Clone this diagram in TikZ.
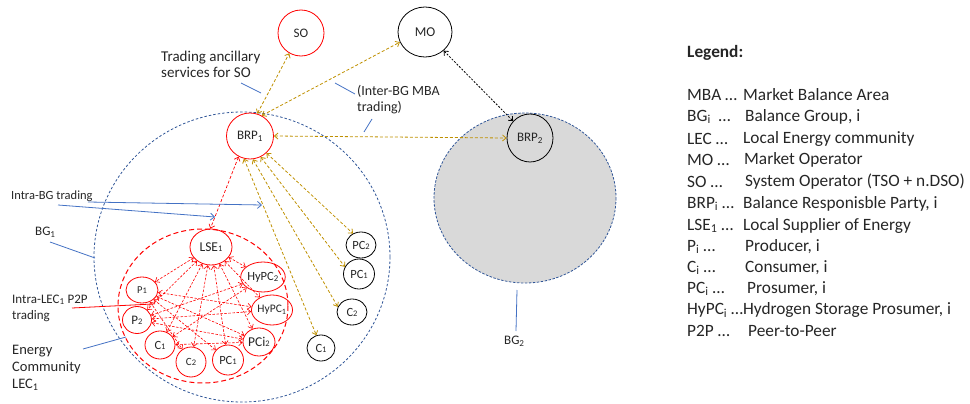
\documentclass[tikz,border=0pt]{standalone}
\usepackage{fontspec}
\setmainfont{Carlito}
\usetikzlibrary{arrows.meta,shapes.geometric}
\definecolor{gold}{RGB}{191,144,0}
\definecolor{lblue}{RGB}{68,114,196}
\definecolor{dblue}{RGB}{47,85,151}
\definecolor{bggray}{RGB}{217,217,217}
\newcommand{\myfs}[1]{\fontsize{#1}{#1}\selectfont}
\newcommand{\dg}[1]{{\fontsize{8.5}{8.5}\selectfont #1}}
\begin{document}
\begin{tikzpicture}[x=1pt,y=-1pt,
  ent/.style={ellipse, draw, inner sep=0pt, line width=0.8pt, font=\myfs{12.5}, text=black!85},
  rent/.style={ent, draw=red},
  bent/.style={ent, draw=black},
  garr/.style={draw=gold, line width=0.8pt, dash pattern=on 3pt off 2pt,
    {Straight Barb[length=3.5pt,width=6pt]}-{Straight Barb[length=3.5pt,width=6pt]}},
  rarr/.style={garr, draw=red, line width=0.7pt},
  karr/.style={garr, draw=black, dash pattern=on 2pt off 1.5pt},
  note/.style={draw=lblue, line width=0.8pt},
  notearr/.style={note, -{Straight Barb[length=4pt,width=7pt]}},
  lbl/.style={font=\myfs{12.5}, align=left, inner sep=0pt, text=black!85, anchor=west},
  leg/.style={font=\myfs{17.3}, inner sep=0pt, text=black!85, anchor=west},
]
\useasboundingbox (0,0) rectangle (970,404);

% groups
\draw[dblue, line width=0.8pt, dash pattern=on 2.5pt off 1.5pt, fill=bggray] (525,198) ellipse [x radius=91, y radius=85];
\draw[dblue, line width=0.8pt, dash pattern=on 2.5pt off 2pt] (242,257) ellipse [x radius=148, y radius=145];
\draw[red, line width=1pt, dash pattern=on 5pt off 3pt] (203,306) ellipse [x radius=85, y radius=77];

% top level nodes
\node[rent, minimum width=46pt, minimum height=46pt, font=\myfs{13}] (SO) at (301,33) {SO};
\node[bent, minimum width=54pt, minimum height=50pt, font=\myfs{13.5}] (MO) at (425,32) {MO};
\node[rent, minimum width=47pt, minimum height=46pt, font=\myfs{13}] (BRP1) at (250,136) {BRP\textsubscript{1}};
\node[bent, minimum width=46pt, minimum height=48pt, font=\myfs{13}] (BRP2) at (530,138) {BRP\textsubscript{2}};

% LEC nodes
\node[rent, minimum width=42pt, minimum height=36pt, font=\myfs{13.5}] (LSE) at (211,247) {LSE\dg{1}};
\node[rent, minimum width=34pt, minimum height=30pt] (HyPC2) at (263,277) {HyPC\textsubscript{2}};
\node[rent, minimum width=34pt, minimum height=30pt, font=\myfs{11.5}] (HyPC1) at (272,310) {HyPC\textsubscript{1}};
\node[rent, minimum width=32pt, minimum height=28pt, font=\myfs{13.5}] (PCi2) at (259,342) {PCi\dg{2}};
\node[rent, minimum width=31pt, minimum height=30pt] (PC1r) at (228,360) {PC\dg{1}};
\node[rent, minimum width=30pt, minimum height=30pt, font=\myfs{11}] (C2r) at (191,362) {C\dg{2}};
\node[rent, minimum width=30pt, minimum height=28pt] (C1r) at (160,345) {C\dg{1}};
\node[rent, minimum width=29pt, minimum height=27pt, font=\myfs{13}] (P2) at (137,320) {P\dg{2}};
\node[rent, minimum width=32pt, minimum height=26pt, font=\myfs{10.5}] (P1) at (142,290) {P\dg{1}};

% BG1 members outside LEC
\node[bent, minimum width=30pt, minimum height=26pt] (PC2k) at (361,245) {PC\dg{2}};
\node[bent, minimum width=31pt, minimum height=30pt] (PC1k) at (359,274) {PC\dg{1}};
\node[bent, minimum width=30pt, minimum height=26pt] (C2k) at (352,312) {C\dg{2}};
\node[bent, minimum width=28pt, minimum height=26pt] (C1k) at (321,348) {C\dg{1}};

% gold trading arrows
\draw[garr] (BRP1.72) -- (SO.-120);
\draw[garr] (BRP1.60) -- (MO.-158);
\draw[garr] (BRP1.0) -- (BRP2.180);
\draw[garr] (BRP1.-46) -- (PC2k.125);
\draw[garr] (BRP1.-63) -- (PC1k.153);
\draw[garr] (BRP1.-83) -- (C2k.160);
\draw[garr] (BRP1.-105) -- (C1k.110);
\draw[rarr] (BRP1.-119) -- (LSE.92);
\draw[karr] (MO.-45) -- (BRP2.135);

% LEC P2P arrows
\begin{scope}[rarr/.append style={line width=0.6pt, dash pattern=on 2.5pt off 1.5pt}]
\foreach \t in {P1,P2,C1r,C2r,PC1r,PCi2,HyPC1,HyPC2} \draw[rarr] (LSE) -- (\t);
\foreach \t in {C2r,PC1r,PCi2,HyPC1} \draw[rarr] (P1) -- (\t);
\foreach \t in {HyPC2,HyPC1,PCi2} \draw[rarr] (P2) -- (\t);
\foreach \t in {PCi2,HyPC2} \draw[rarr] (C1r) -- (\t);
\end{scope}

% annotation lines
\coordinate (anA) at (241,83);  \coordinate (anB) at (261,93);
\coordinate (ibA) at (335,83);  \coordinate (ibB) at (355,94);
\coordinate (ibC) at (372,119); \coordinate (ibD) at (364,132);
\coordinate (bgA) at (88,202);  \coordinate (bgB) at (262,205);
\coordinate (bgC) at (58,205);  \coordinate (bgD) at (215,217);
\coordinate (g1A) at (50,242);  \coordinate (g1B) at (95,258);
\coordinate (g2A) at (517,290); \coordinate (g2B) at (516,331);
\coordinate (ecA) at (83,349);  \coordinate (ecB) at (126,337);
\coordinate (lcA) at (72,308);  \coordinate (lcB) at (153,304);
\draw[note] (anA) -- (anB);
\draw[note] (ibA) -- (ibB);
\draw[note] (ibC) -- (ibD);
\draw[notearr] (bgA) -- (bgB);
\draw[notearr] (bgC) -- (bgD);
\draw[note] (g1A) -- (g1B);
\draw[note] (g2A) -- (g2B);
\draw[note] (ecA) -- (ecB);
\draw[red, line width=0.8pt] (lcA) -- (lcB);

% labels
\node[lbl, font=\fontsize{15}{16}\selectfont] (tAnc) at (161,64) {Trading ancillary\\services for SO};
\node[lbl, font=\fontsize{14}{16}\selectfont] (tInter) at (357,100) {(Inter-BG MBA\\trading)};
\node[lbl] (tIntraBG) at (11,196) {Intra-BG trading};
\node[lbl, font=\myfs{13}] (tBG1) at (35,232) {BG\textsubscript{1}};
\node[lbl, font=\fontsize{13}{16}\selectfont] (tLEC) at (12,308) {Intra-LEC\textsubscript{1} P2P\\trading};
\node[lbl, font=\myfs{14.5}, text depth=0pt] (tEC) at (12,367) {Energy\\[2.5pt]Community\\[2.5pt]LEC\textsubscript{1}};
\node[lbl, font=\myfs{13}] (tBG2) at (504,341) {BG\textsubscript{2}};

% legend
\node[leg, font=\bfseries\myfs{17.3}] (lgT) at (687,53) {Legend:};
\node[leg] (a1) at (687,95) {MBA …}; \node[leg] (d1) at (743,95) {Market Balance Area};
\node[leg] (a2) at (687,117) {BG\textsubscript{i}\ \ …}; \node[leg] (d2) at (745,117) {Balance Group, i};
\node[leg] (a3) at (687,139) {LEC …}; \node[leg] (d3) at (743,139) {Local Energy community};
\node[leg] (a4) at (687,160) {MO …}; \node[leg] (d4) at (744,160) {Market Operator};
\node[leg] (a5) at (687,182) {SO …}; \node[leg] (d5) at (745,182) {System Operator (TSO + n.DSO)};
\node[leg] (a6) at (687,204) {BRP\textsubscript{i} …}; \node[leg] (d6) at (743,204) {Balance Responisble Party, i};
\node[leg] (a7) at (687,226) {LSE\textsubscript{1} …}; \node[leg] (d7) at (743,226) {Local Supplier of Energy};
\node[leg] (a8) at (687,247) {P\textsubscript{i} …}; \node[leg] (d8) at (745,247) {Producer, i};
\node[leg] (a9) at (687,268) {C\textsubscript{i} …}; \node[leg] (d9) at (745,268) {Consumer, i};
\node[leg] (a10) at (687,289) {PC\textsubscript{i} …}; \node[leg] (d10) at (747,289) {Prosumer, i};
\node[leg] (a11) at (687,310) {HyPC\textsubscript{i} …Hydrogen Storage Prosumer, i};
\node[leg] (a12) at (687,331) {P2P …}; \node[leg] (d12) at (748,331) {Peer-to-Peer};
\end{tikzpicture}
\end{document}
